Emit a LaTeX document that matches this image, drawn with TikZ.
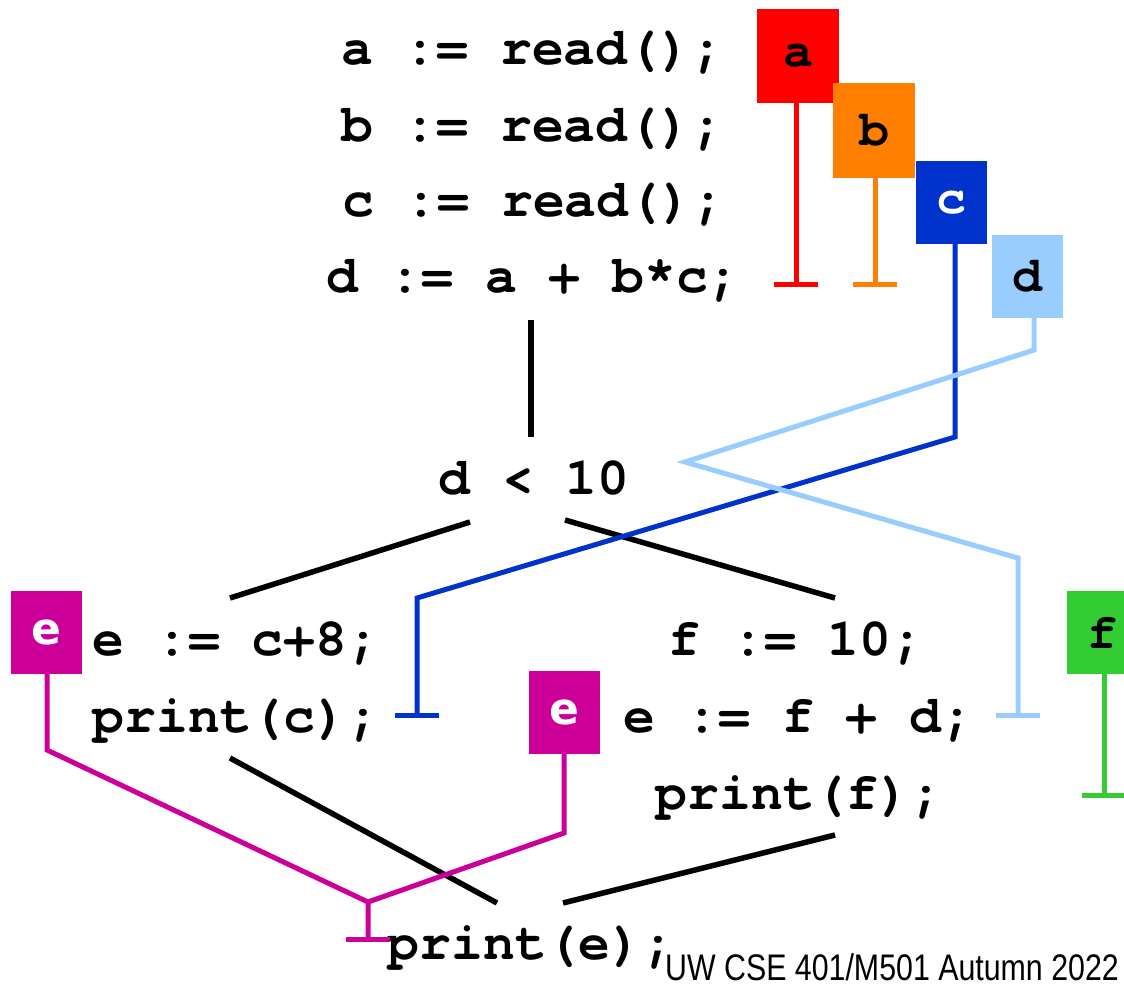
\documentclass[tikz,border=0pt]{standalone}
\usepackage{fontspec}
\setmonofont{texgyrecursor}[Extension=.otf,UprightFont=*-regular,BoldFont=*-bold]
\setsansfont{DejaVu Sans}
\newfontfamily\footfont{Liberation Sans}
\usetikzlibrary{arrows.meta}
\definecolor{tagA}{RGB}{255,0,0}
\definecolor{tagB}{RGB}{255,128,0}
\definecolor{tagC}{RGB}{0,51,204}
\definecolor{tagD}{RGB}{153,204,255}
\definecolor{tagE}{RGB}{204,0,153}
\definecolor{tagF}{RGB}{51,204,51}

\begin{document}
\begin{tikzpicture}[
	x=1pt,y=-1pt,
	code/.style={anchor=base,inner sep=0pt,font=\fontsize{53}{60}\selectfont\ttfamily\bfseries},
	tag/.style={inner sep=0pt,minimum width=71pt,minimum height=83pt,font=\fontsize{50}{60}\selectfont\ttfamily\bfseries},
	etag/.style={tag,fill=tagE,text=white,font=\fontsize{44}{50}\selectfont\sffamily\bfseries},
	flow/.style={line width=5.5pt},
	chain/.style={line width=5pt,-{Bar[width=44pt]}},
	]
\useasboundingbox (0,0) rectangle (1124,988);
% statements
\node [code] (sa) at (532,64) {a := read();};
\node [code] (sb) at (532,141) {b := read();};
\node [code] (sc) at (533,216) {c := read();};
\node [code] (sd) at (533,292) {d := a + b*c;};
\node [code] (cond) at (534,494) {d < 10};
\node [code] (se) at (236,655) {e := c+8;};
\node [code] (pc) at (236,732) {print(c);};
\node [code] (sf) at (796,655) {f := 10;};
\node [code] (se2) at (798,732) {e := f + d;};
\node [code] (pf) at (799,809) {print(f);};
\node [code] (pe) at (531,959) {print(e);};
% flow edges
\coordinate (d1) at (531,320);
\coordinate (d2) at (531,437);
\coordinate (l1) at (470,522);
\coordinate (l2) at (230,598);
\coordinate (r1) at (565,520);
\coordinate (r2) at (835,598);
\coordinate (j1) at (230,758);
\coordinate (j2) at (497,903);
\coordinate (k1) at (835,835);
\coordinate (k2) at (563,903);
\draw [flow] (d1) -- (d2);
\draw [flow] (l1) -- (l2);
\draw [flow] (r1) -- (r2);
\draw [flow] (j1) -- (j2);
\draw [flow] (k1) -- (k2);
% tags
\node [tag,fill=tagA,minimum width=82pt,minimum height=94pt] (ta) at (798,56) {a};
\node [tag,fill=tagB,minimum width=82pt,minimum height=95pt] (tb) at (874,130.5) {b};
\node [tag,fill=tagC,text=white] (tc) at (951.5,202.5) {c};
\node [tag,fill=tagD] (td) at (1027.5,276.5) {d};
\node [etag] (te) at (46.5,632.5) {e};
\node [etag] (te2) at (564.5,712.5) {e};
\node [tag,fill=tagF] (tf) at (1102.5,632.5) {f};
% def-use chains
\coordinate (ua) at (796,287);
\coordinate (ub) at (875,287);
\coordinate (cb1) at (955,437);
\coordinate (cb2) at (417,598);
\coordinate (uc) at (417,718);
\coordinate (db1) at (1034,350);
\coordinate (db2) at (685,462);
\coordinate (db3) at (1018,558);
\coordinate (ud) at (1018,718);
\coordinate (eb1) at (47,750);
\coordinate (em) at (368,902);
\coordinate (ue) at (368,942);
\coordinate (eb2) at (564,833);
\coordinate (uf) at (1104,798);
\draw [chain,tagA] (ua |- ta.south) -- (ua);
\draw [chain,tagB] (ub |- tb.south) -- (ub);
\draw [chain,tagC] (cb1 |- tc.south) -- (cb1) -- (cb2) -- (uc);
\draw [chain,tagD] (db1 |- td.south) -- (db1) -- (db2) -- (db3) -- (ud);
\draw [chain,tagE] (eb1 |- te.south) -- (eb1) -- (em) -- (ue);
\draw [line width=5pt,tagE] (eb2 |- te2.south) -- (eb2) -- (em);
\draw [chain,tagF] (uf |- tf.south) -- (uf);
% footer
\node [anchor=base east,inner sep=0pt,xscale=0.82,font=\footfont\fontsize{37}{40}\selectfont] (foot) at (1119,980) {UW CSE 401/M501 Autumn 2022};
\end{tikzpicture}
\end{document}
